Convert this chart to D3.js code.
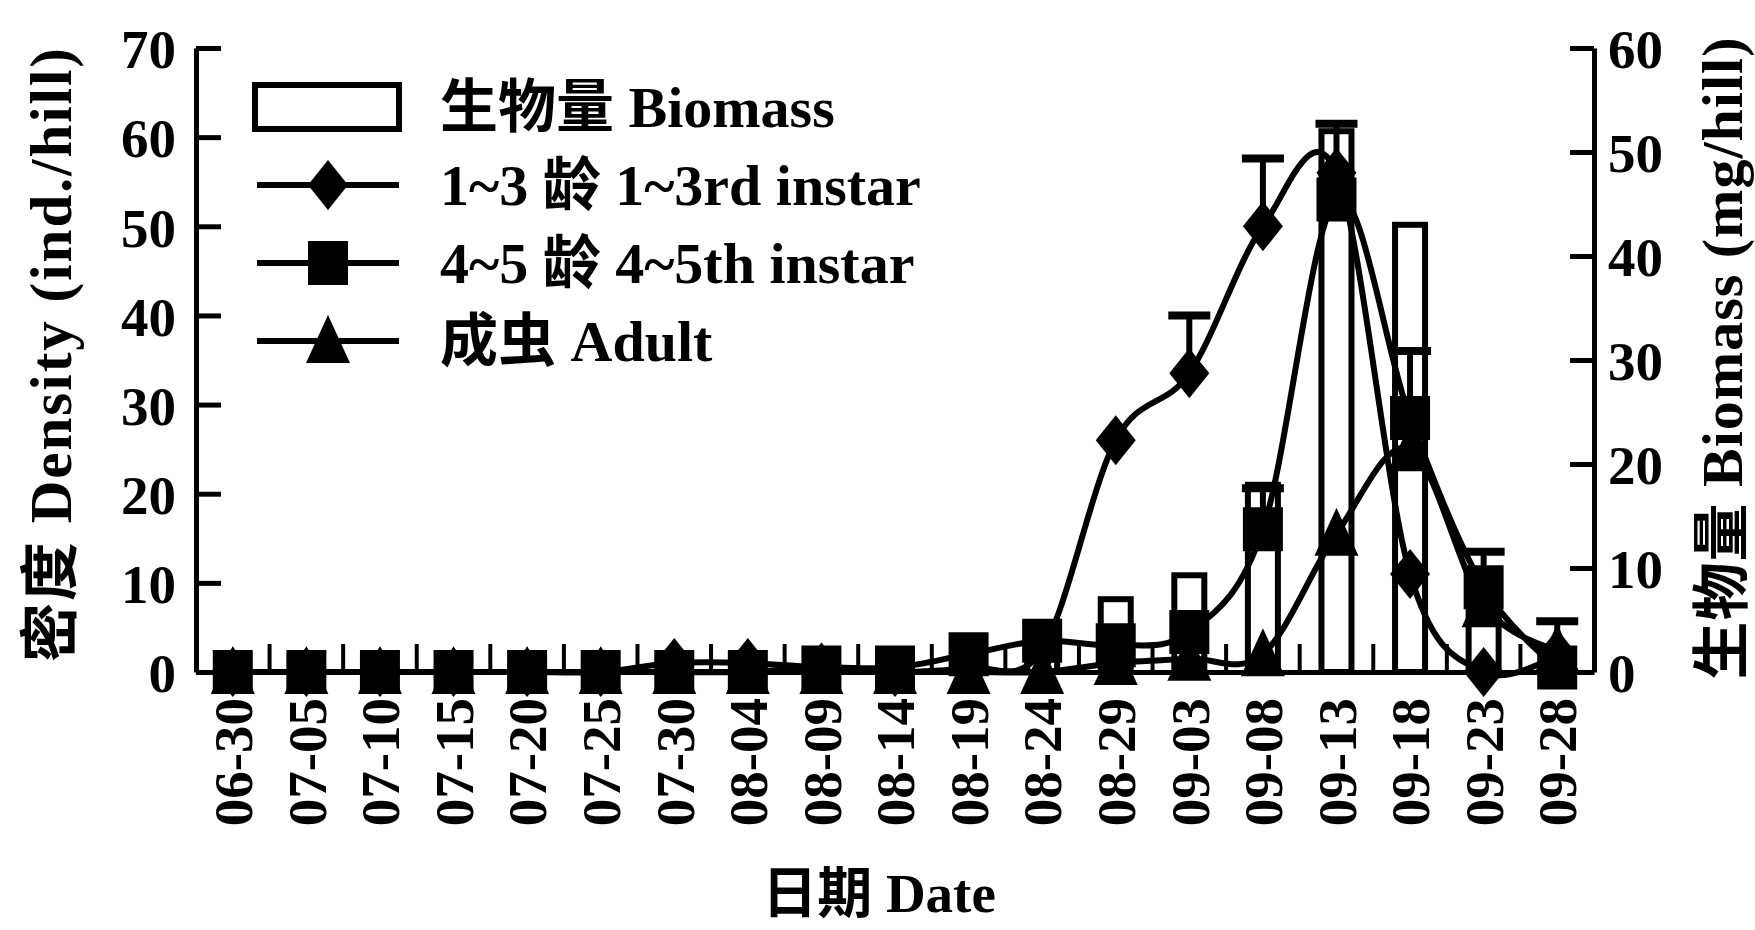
<!DOCTYPE html>
<html>
<head>
<meta charset="utf-8">
<script src="https://cdn.jsdelivr.net/npm/d3@7"></script>
<style>
  body { margin: 0; background: #fff; }
  text { font-family: "Liberation Serif", "Noto Sans CJK SC", serif; font-weight: bold; fill: #000; }
</style>
</head>
<body>
<svg id="chart" width="1755" height="930"></svg>
<script>
// Sampling dates (month-day)
const dates = ["06-30","07-05","07-10","07-15","07-20","07-25","07-30","08-04","08-09","08-14",
               "08-19","08-24","08-29","09-03","09-08","09-13","09-18","09-23","09-28"];

// Biomass (mg/hill), right axis
const biomass     = [0,0,0,0,0,0,0,0,0,0,1,2.5,7,9.3,18,52,43,7,1.5];

// Densities (ind./hill), left axis, with upper error values
const instar13    = [0,0,0,0,0,0,1,1,0.5,0,0.5,2.5,26,33.5,50,56,11,0,2];
const instar13Err = [0,0,0,0,0,0,0,0,0,0,0,0,0,6.5,7.6,0,0,0,0];
const instar45    = [0,0,0,0,0,0,0,0,0.5,0.5,2,3.5,3,4.5,16,53,28.5,9.5,0.5];
const instar45Err = [0,0,0,0,0,0,0,0,0,0,0,0,0,0,4.6,8.5,7.5,4,0];
const adult       = [0,0,0,0,0,0,0,0,0,0,0,0,1,1.5,2,15.5,25,7.5,2.5];
const adultErr    = [0,0,0,0,0,0,0,0,0,0,0,0,0,0,0,0,0,0,3.2];

const densityTicks = [0,10,20,30,40,50,60,70];
const biomassTicks = [0,10,20,30,40,50,60];

const legendLabels = ["生物量 Biomass", "1~3 龄 1~3rd instar", "4~5 龄 4~5th instar", "成虫 Adult"];

const W = 1755, H = 930;
const plot = { left: 196, right: 1594, top: 48, bottom: 672 };
const FS = 55;

const svg = d3.select("#chart");
svg.append("rect").attr("width", W).attr("height", H).attr("fill", "#fff");

const x = d3.scaleBand().domain(dates).range([plot.left, plot.right]);
const cx = d => x(d) + x.bandwidth() / 2;
const yL = d3.scaleLinear().domain([0, 70]).range([plot.bottom, plot.top]);
const yR = d3.scaleLinear().domain([0, 60]).range([plot.bottom, plot.top]);

// ---------- biomass bars ----------
const barW = 30;
svg.append("g").selectAll("rect")
  .data(dates.map((d, i) => ({ d, v: biomass[i] })).filter(o => o.v > 0))
  .join("rect")
  .attr("x", o => cx(o.d) - barW / 2)
  .attr("y", o => yR(o.v))
  .attr("width", barW)
  .attr("height", o => yR(0) - yR(o.v))
  .attr("fill", "#fff")
  .attr("stroke", "#000")
  .attr("stroke-width", 6);

// ---------- density series ----------
const series = [
  { vals: instar13, err: instar13Err, shape: "diamond" },
  { vals: instar45, err: instar45Err, shape: "square" },
  { vals: adult,    err: adultErr,    shape: "triangle" }
];

const line = d3.line()
  .x((v, i) => cx(dates[i]))
  .y(v => yL(v))
  .curve(d3.curveCardinal.tension(0));

function markerPath(shape) {
  if (shape === "diamond") return "M0,-25L20,0L0,25L-20,0Z";
  if (shape === "square") return "M-20,-22L20,-22L20,22L-20,22Z";
  return "M0,-26L22,22L-22,22Z";
}

const gLines = svg.append("g");
series.forEach(s => {
  gLines.append("path")
    .attr("d", line(s.vals))
    .attr("fill", "none")
    .attr("stroke", "#000")
    .attr("stroke-width", 6)
    .attr("stroke-linejoin", "round");
});

// error bars (upper only)
const gErr = svg.append("g").attr("stroke", "#000");
series.forEach(s => {
  s.vals.forEach((v, i) => {
    const e = s.err[i];
    if (!e) return;
    const px = cx(dates[i]);
    gErr.append("line").attr("x1", px).attr("x2", px)
      .attr("y1", yL(v)).attr("y2", yL(v + e)).attr("stroke-width", 6);
    gErr.append("line").attr("x1", px - 21).attr("x2", px + 21)
      .attr("y1", yL(v + e)).attr("y2", yL(v + e)).attr("stroke-width", 8);
  });
});

// markers
const gMk = svg.append("g");
series.forEach(s => {
  gMk.append("g").selectAll("path")
    .data(s.vals)
    .join("path")
    .attr("transform", (v, i) => `translate(${cx(dates[i])},${yL(v)})`)
    .attr("d", markerPath(s.shape))
    .attr("fill", "#000");
});

// ---------- axes ----------
const axL = svg.append("g").attr("transform", `translate(${plot.left},0)`)
  .call(d3.axisLeft(yL).tickValues(densityTicks).tickSizeInner(-25).tickSizeOuter(0).tickPadding(20));
const axR = svg.append("g").attr("transform", `translate(${plot.right},0)`)
  .call(d3.axisRight(yR).tickValues(biomassTicks).tickSizeInner(-24).tickSizeOuter(0).tickPadding(14));
const axB = svg.append("g").attr("transform", `translate(0,${plot.bottom})`)
  .call(d3.axisBottom(x).tickSize(0).tickPadding(0));

[axL, axR, axB].forEach(a => {
  a.select(".domain").attr("stroke", "#000").attr("stroke-width", 5);
  a.selectAll(".tick line").attr("stroke", "#000").attr("stroke-width", 5);
  a.selectAll("text").attr("font-size", FS).attr("font-family", null);
});
axL.selectAll(".tick text").attr("dy", "0.36em");
axR.selectAll(".tick text").attr("dy", "0.36em");
axB.selectAll(".tick text")
  .attr("transform", "rotate(-90)")
  .attr("x", -26).attr("y", 0).attr("dy", "0.35em")
  .attr("text-anchor", "end");

// category boundary ticks pointing up
axB.append("g").selectAll("line")
  .data(dates.slice(1))
  .join("line")
  .attr("x1", d => x(d)).attr("x2", d => x(d))
  .attr("y1", 0).attr("y2", -28)
  .attr("stroke", "#000").attr("stroke-width", 4);

// ---------- axis titles ----------
svg.append("text")
  .attr("transform", "translate(50,354) rotate(-90)")
  .attr("text-anchor", "middle").attr("dy", "0.35em")
  .attr("font-size", 59).attr("letter-spacing", 2)
  .text("密度 Density (ind./hill)");
svg.append("text")
  .attr("transform", "translate(1722,358) rotate(-90)")
  .attr("text-anchor", "middle").attr("dy", "0.35em")
  .attr("font-size", 58).attr("letter-spacing", 1)
  .text("生物量 Biomass (mg/hill)");
svg.append("text")
  .attr("x", 879).attr("y", 912)
  .attr("text-anchor", "middle")
  .attr("font-size", FS).text("日期 Date");

// ---------- legend ----------
const lg = svg.append("g");
const rowY = [107, 185, 263, 341];
lg.append("rect").attr("x", 255).attr("y", 85).attr("width", 144).attr("height", 44)
  .attr("fill", "#fff").attr("stroke", "#000").attr("stroke-width", 6);
series.forEach((s, i) => {
  const y = rowY[i + 1];
  lg.append("line").attr("x1", 257).attr("x2", 399).attr("y1", y).attr("y2", y)
    .attr("stroke", "#000").attr("stroke-width", 6);
  lg.append("path").attr("transform", `translate(328,${y})`)
    .attr("d", markerPath(s.shape)).attr("fill", "#000");
});
lg.selectAll("text.lbl").data(legendLabels).join("text")
  .attr("class", "lbl")
  .attr("x", 440).attr("y", (d, i) => rowY[i]).attr("dy", "0.35em")
  .attr("font-size", 58).text(d => d);
</script>
</body>
</html>
